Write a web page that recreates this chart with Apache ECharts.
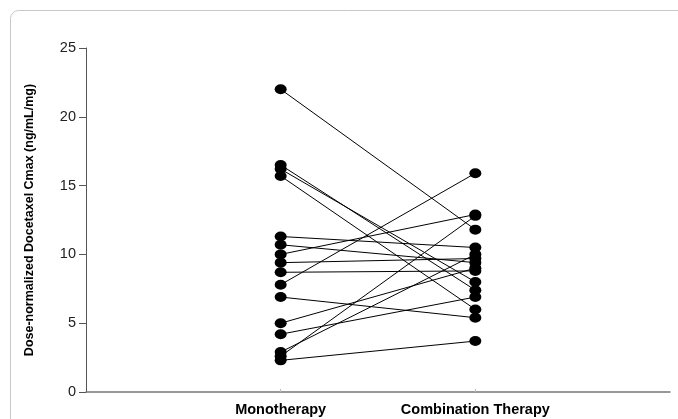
<!DOCTYPE html>
<html>
<head>
<meta charset="utf-8">
<script src="https://cdn.jsdelivr.net/npm/echarts@6/dist/echarts.min.js"></script>
<style>html,body{margin:0;padding:0;background:#fff}#c{width:678px;height:419px}</style>
</head>
<body>
<div id="c"></div>
<script>
var categories = ['Monotherapy', 'Combination Therapy'];
var monotherapy = [22.0, 16.5, 16.2, 15.7, 11.3, 10.7, 10.0, 9.4, 8.7, 7.8, 6.9, 5.0, 4.2, 2.9, 2.6, 2.3];
var combination = [11.8, 7.4, 8.0, 6.0, 10.5, 9.4, 12.9, 9.7, 8.8, 15.9, 5.4, 9.0, 6.9, 10.0, 12.8, 3.7];
var yTicks = [0, 5, 10, 15, 20, 25];
var yTitle = 'Dose-normalized Docetaxel Cmax (ng/mL/mg)';

var xData = [''].concat(categories).concat(['']);
var series = monotherapy.map(function (v, i) {
  return {
    type: 'line',
    data: [[categories[0], v], [categories[1], combination[i]]],
    symbol: 'circle',
    symbolSize: [12, 10],
    itemStyle: { color: '#000' },
    lineStyle: { color: '#000', width: 1 },
    silent: true,
    animation: false
  };
});

var chart = echarts.init(document.getElementById('c'), null, { renderer: 'canvas' });
chart.setOption({
  backgroundColor: '#fff',
  animation: false,
  graphic: [{
    type: 'rect',
    shape: { x: 10.5, y: 10.5, width: 720, height: 460, r: 8 },
    style: { fill: 'none', stroke: '#c8c8c8', lineWidth: 1 },
    silent: true,
    z: -1
  }],
  grid: { left: 86, right: 8, top: 48, bottom: 27, containLabel: false },
  xAxis: {
    type: 'category',
    data: xData,
    boundaryGap: false,
    axisLine: { lineStyle: { color: '#777', width: 1.5 } },
    axisTick: {
      show: true, inside: true, length: 3,
      interval: function (idx) { return idx === 1 || idx === 2; },
      lineStyle: { color: '#bbb' }
    },
    axisLabel: {
      interval: 0,
      margin: 10,
      fontFamily: 'Liberation Sans, Arial, sans-serif',
      fontWeight: 'bold',
      fontSize: 14.5,
      color: '#000'
    },
    splitLine: { show: false }
  },
  yAxis: {
    type: 'value',
    min: yTicks[0],
    max: yTicks[yTicks.length - 1],
    interval: 5,
    name: yTitle,
    nameLocation: 'middle',
    nameGap: 50,
    nameRotate: 90,
    nameTextStyle: {
      fontFamily: 'Liberation Sans, Arial, sans-serif',
      fontWeight: 'bold',
      fontSize: 12.5,
      color: '#000'
    },
    axisLine: { show: true, lineStyle: { color: '#555', width: 1 } },
    axisTick: { show: true, length: 7, lineStyle: { color: '#555' } },
    axisLabel: {
      margin: 10,
      fontFamily: 'Liberation Sans, Arial, sans-serif',
      fontSize: 14.5,
      color: '#222'
    },
    splitLine: { show: false }
  },
  series: series
});
</script>
</body>
</html>
